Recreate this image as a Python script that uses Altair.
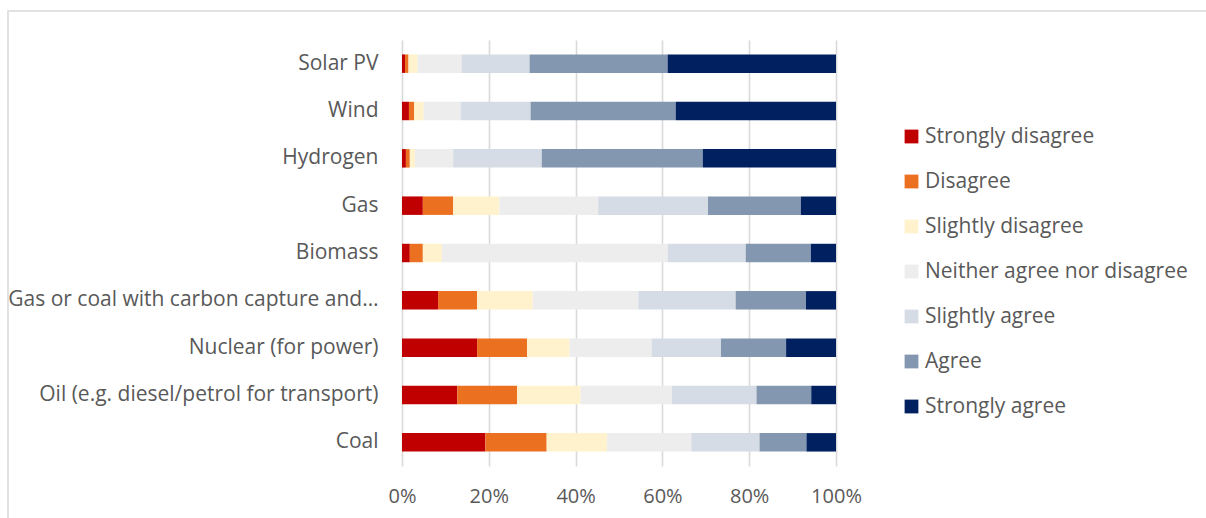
import altair as alt
import pandas as pd

categories = [
    "Solar PV",
    "Wind",
    "Hydrogen",
    "Gas",
    "Biomass",
    "Gas or coal with carbon capture and…",
    "Nuclear (for power)",
    "Oil (e.g. diesel/petrol for transport)",
    "Coal",
]
responses = [
    "Strongly disagree",
    "Disagree",
    "Slightly disagree",
    "Neither agree nor disagree",
    "Slightly agree",
    "Agree",
    "Strongly agree",
]
colors = ["#C00000", "#EB7020", "#FFF2CC", "#EDEDED", "#D6DCE5", "#8497B0", "#002060"]

strongly_disagree = [0.7, 1.6, 0.9, 4.8, 1.8, 8.3, 17.3, 12.7, 19.2]
disagree = [0.8, 1.2, 0.9, 7.0, 3.0, 9.0, 11.5, 13.8, 14.1]
slightly_disagree = [2.1, 2.2, 1.2, 10.6, 4.4, 12.8, 9.8, 14.6, 13.9]
neither = [10.1, 8.5, 8.8, 22.8, 52.0, 24.3, 18.9, 21.0, 19.4]
slightly_agree = [15.7, 16.1, 20.4, 25.3, 18.0, 22.4, 16.0, 19.5, 15.7]
agree = [31.8, 33.4, 37.1, 21.4, 15.0, 16.2, 15.0, 12.6, 10.8]
strongly_agree = [38.8, 36.9, 30.7, 8.1, 5.8, 6.9, 11.5, 5.7, 6.8]

series = [strongly_disagree, disagree, slightly_disagree, neither,
          slightly_agree, agree, strongly_agree]

rows = []
for ri, (resp, vals) in enumerate(zip(responses, series)):
    for cat, v in zip(categories, vals):
        rows.append({"category": cat, "response": resp, "value": v, "order": ri})
df = pd.DataFrame(rows)

FONT = "Open Sans"
GREY = "#595959"

bars = alt.Chart(df).mark_bar().encode(
    y=alt.Y(
        "category:N",
        sort=categories,
        scale=alt.Scale(paddingInner=0.61, paddingOuter=0.305),
        axis=alt.Axis(
            title=None, ticks=False, domain=False, grid=False,
            labelFont=FONT, labelFontSize=21, labelColor=GREY,
            labelPadding=24, labelLimit=600,
        ),
    ),
    x=alt.X(
        "value:Q",
        stack="normalize",
        scale=alt.Scale(domain=[0, 1]),
        axis=alt.Axis(
            title=None, format="%", values=[0, 0.2, 0.4, 0.6, 0.8, 1.0],
            ticks=False, domain=False, grid=True, gridColor="#D9D9D9",
            gridWidth=1.6, labelFont=FONT, labelFontSize=20,
            labelColor=GREY, labelPadding=20, labelFlush=False,
        ),
    ),
    color=alt.Color(
        "response:N",
        sort=responses,
        scale=alt.Scale(domain=responses, range=colors),
        legend=alt.Legend(
            title=None, orient="none", legendX=499, legendY=86,
            symbolType="square", symbolSize=190, symbolStrokeWidth=0,
            labelFont=FONT, labelFontSize=21, labelColor=GREY,
            labelOffset=3, rowPadding=23, padding=0, labelLimit=400,
        ),
    ),
    order=alt.Order("order:Q"),
)

border = alt.Chart(pd.DataFrame({"k": [0]})).mark_rect(
    fill=None, stroke="#D9D9D9", strokeWidth=1.5
).encode(
    x=alt.value(-394), x2=alt.value(820),
    y=alt.value(-29), y2=alt.value(500),
)

chart = alt.layer(border, bars).properties(
    width=434, height=426,
    autosize=alt.AutoSizeParams(type="none"),
    padding={"left": 402, "top": 40, "right": 370, "bottom": 52},
    background="white",
).configure_view(stroke=None)

chart.save("out.html", embed_options={"renderer": "svg", "actions": False})
